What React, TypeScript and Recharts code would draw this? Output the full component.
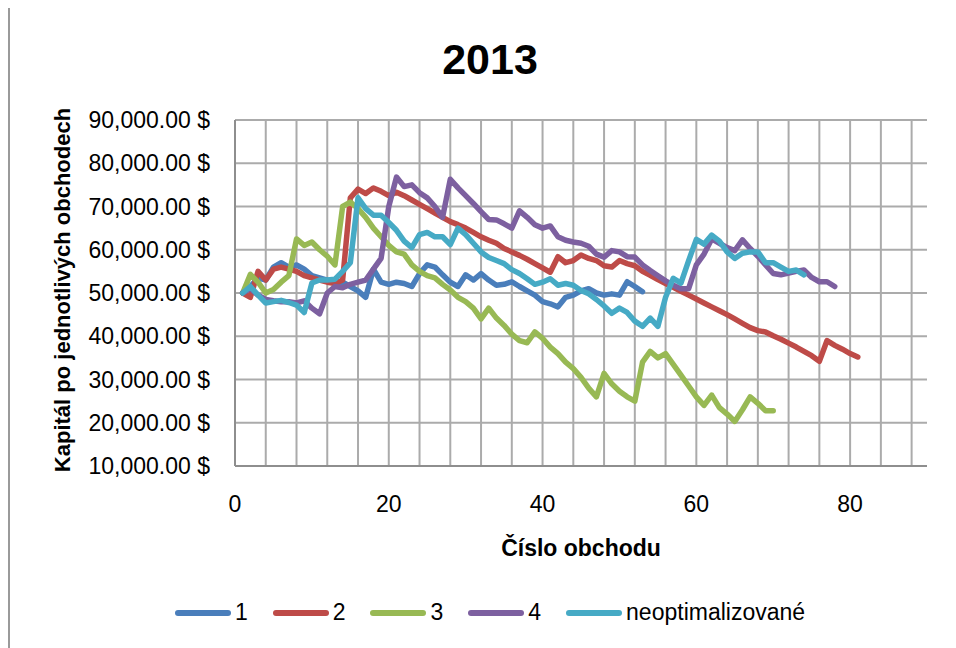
import { CartesianGrid, Label, Legend, Line, LineChart, XAxis, YAxis } from "recharts";

const font = "'Liberation Sans', Arial, sans-serif";

const xTicks = [0, 20, 40, 60, 80];
const yTicks = [10000, 20000, 30000, 40000, 50000, 60000, 70000, 80000, 90000];
const gridX = [0, 4, 8, 12, 16, 20, 24, 28, 32, 36, 40, 44, 48, 52, 56, 60, 64, 68, 72, 76, 80, 84, 88];

const series1 = [
  50000, 51500, 53500, 53000, 56000, 57000, 56000, 56500, 55500, 54000,
  53500, 53000, 52500, 52500, 51500, 50500, 49000, 55500, 52500, 52000,
  52500, 52200, 51500, 54500, 56500, 56000, 54200, 52500, 51500, 54200,
  53000, 54500, 53000, 51800, 52000, 52600, 51500, 50500, 49500, 48000,
  47500, 46800, 49000, 49500, 50500, 51000, 50000, 49500, 49800, 49500,
  52600, 51500, 50300,
];

const series2 = [
  50000, 49000, 55000, 53000, 55500, 56000, 55500, 55000, 54000, 53500,
  53000, 52500, 52200, 53000, 72000, 74000, 73000, 74300, 73500, 72500,
  73300, 72500, 71500, 70500, 69500, 68500, 67500, 66500, 65800, 65000,
  64000, 63000, 62200, 61500, 60300, 59500, 58700, 57800, 56800, 55800,
  54800, 58400, 57000, 57500, 58800, 58000, 57500, 56300, 56000, 57500,
  56800, 56300, 55000, 54100, 53100, 52200, 51300, 50400, 49500, 48600,
  47700, 46800, 45900, 45000, 44000, 43000, 42000, 41300, 41000, 40100,
  39300, 38400, 37500, 36500, 35500, 34200, 39000, 37900, 37000, 36000,
  35200,
];

const series3 = [
  50000, 54300, 52500, 50000, 50800, 52500, 54000, 62500, 61000, 61800,
  60000, 58500, 56500, 70000, 71000, 69500, 67500, 65000, 63000, 61000,
  59500, 59000, 56500, 55000, 54000, 53500, 52000, 50700, 49000, 48000,
  46500, 44000, 46500, 44200, 42500, 40500, 39000, 38500, 41000, 39500,
  37500, 36000, 34000, 32500, 30500, 28000, 26000, 31400, 29000, 27300,
  26000, 25000, 34000, 36500, 35000, 36000, 33500, 31000, 28500, 26000,
  24000, 26400, 23500, 22000, 20300, 23000, 26000, 24500, 22800, 22800,
];

const series4 = [
  50000, 51000, 49500, 48500, 48200, 48000, 48000, 47700, 48200, 46500,
  45200, 50000, 51500, 51200, 52000, 52500, 53000, 55500, 58000, 70000,
  76800, 74600, 75000, 73200, 72000, 70000, 67500, 76300, 74300, 72500,
  70700, 68800, 67000, 66900, 66000, 65000, 69000, 67500, 65800, 65000,
  65500, 63000, 62200, 61800, 61500, 60800, 59000, 58300, 59800, 59500,
  58400, 58300, 56500, 55200, 54000, 52800, 51800, 51000, 51000, 56500,
  59000, 62500, 61500, 60500, 59800, 62300, 60300, 58500, 56500, 54500,
  54200, 54600, 55000, 55300, 53600, 52600, 52600, 51500,
];

const seriesNeopt = [
  50000, 51500, 49500, 47700, 48000, 48300, 47800, 47200, 45500, 52300,
  53000, 53000, 53200, 55000, 57000, 72000, 69500, 68000, 68000, 66300,
  64500, 62000, 60500, 63500, 64000, 63000, 63000, 61200, 65000, 63500,
  61500, 59500, 58200, 57500, 56800, 55400, 54500, 53300, 52000, 52500,
  53300, 51800, 52200, 51800, 50600, 49800, 48500, 47000, 45300, 46500,
  45500, 43500, 42300, 44200, 42300, 49000, 53400, 52300, 57500, 62400,
  61300, 63400, 62000, 59500, 58000, 59200, 59500, 59500, 57000, 57000,
  56000, 55000, 55300, 54200,
];

const toPoints = (vals: number[]) => vals.map((y, i) => ({ x: i + 1, y }));

const lines = [
  { name: "1", color: "#4A7EBB", data: toPoints(series1) },
  { name: "2", color: "#BE4B48", data: toPoints(series2) },
  { name: "3", color: "#98B954", data: toPoints(series3) },
  { name: "4", color: "#7D60A0", data: toPoints(series4) },
  { name: "neoptimalizované", color: "#46AAC5", data: toPoints(seriesNeopt) },
];

const money = (v: number) => `${Math.round(v / 1000)},000.00 $`;

function LegendRow({ payload }: any) {
  return (
    <div style={{ display: "flex", justifyContent: "center", alignItems: "center", fontFamily: font, fontSize: 23, color: "#000", paddingLeft: 16 }}>
      {(payload || []).map((p: any, i: number) => (
        <span key={p.value} style={{ display: "flex", alignItems: "center", marginRight: i < payload.length - 1 ? 25 : 0 }}>
          <span style={{ display: "inline-block", width: 56, height: 6, borderRadius: 3, background: p.color, marginRight: 4 }} />
          {p.value}
        </span>
      ))}
    </div>
  );
}

export default function App() {
  return (
    <div style={{ position: "relative", width: 948, height: 640, background: "#fff" }}>
      <div style={{ position: "absolute", left: 0, top: 0, bottom: 0, width: 2, background: "#9a9a9a" }} />
      <div style={{ position: "absolute", left: 0, top: 30, width: 964, textAlign: "center", fontFamily: font, fontWeight: "bold", fontSize: 43, lineHeight: "43px", color: "#000", zIndex: 1 }}>
        2013
      </div>
      <LineChart width={948} height={640} margin={{ top: 112, right: 29, bottom: 122, left: 0 }}>
        <CartesianGrid stroke="#ABABAB" strokeWidth={2} verticalValues={gridX} horizontalValues={yTicks} />
        <XAxis
          type="number"
          dataKey="x"
          domain={[0, 90]}
          ticks={xTicks}
          allowDataOverflow
          height={60}
          tickSize={0}
          tickMargin={30}
          axisLine={{ stroke: "#8E8E8E", strokeWidth: 2 }}
          tick={{ fill: "#000", fontSize: 23, fontFamily: font }}
        >
          <Label
            content={({ viewBox }: any) => (
              <text x={viewBox.x + viewBox.width / 2} y={540} textAnchor="middle" dominantBaseline="central" fontFamily={font} fontWeight="bold" fontSize={23} fill="#000">
                Číslo obchodu
              </text>
            )}
          />
        </XAxis>
        <YAxis
          type="number"
          dataKey="y"
          domain={[10000, 90000]}
          ticks={yTicks}
          width={227}
          tickSize={0}
          tickMargin={25}
          tickFormatter={money}
          axisLine={{ stroke: "#8E8E8E", strokeWidth: 2 }}
          tick={{ fill: "#000", fontSize: 23, fontFamily: font }}
        >
          <Label
            content={({ viewBox }: any) => {
              const cy = viewBox.y + viewBox.height / 2 - 3;
              return (
                <text x={54} y={cy} transform={`rotate(-90 54 ${cy})`} textAnchor="middle" dominantBaseline="central" fontFamily={font} fontWeight="bold" fontSize={22} fill="#000">
                  Kapitál po jednotlivých obchodech
                </text>
              );
            }}
          />
        </YAxis>
        <Legend
          layout="horizontal"
          verticalAlign="middle"
          align="center"
          content={LegendRow}
          wrapperStyle={{ top: 591, left: 0, width: 948 }}
        />
        {lines.map((l) => (
          <Line
            key={l.name}
            data={l.data}
            dataKey="y"
            name={l.name}
            type="linear"
            stroke={l.color}
            strokeWidth={5.5}
            strokeLinejoin="round"
            strokeLinecap="round"
            dot={false}
            activeDot={false}
            isAnimationActive={false}
          />
        ))}
      </LineChart>
    </div>
  );
}
